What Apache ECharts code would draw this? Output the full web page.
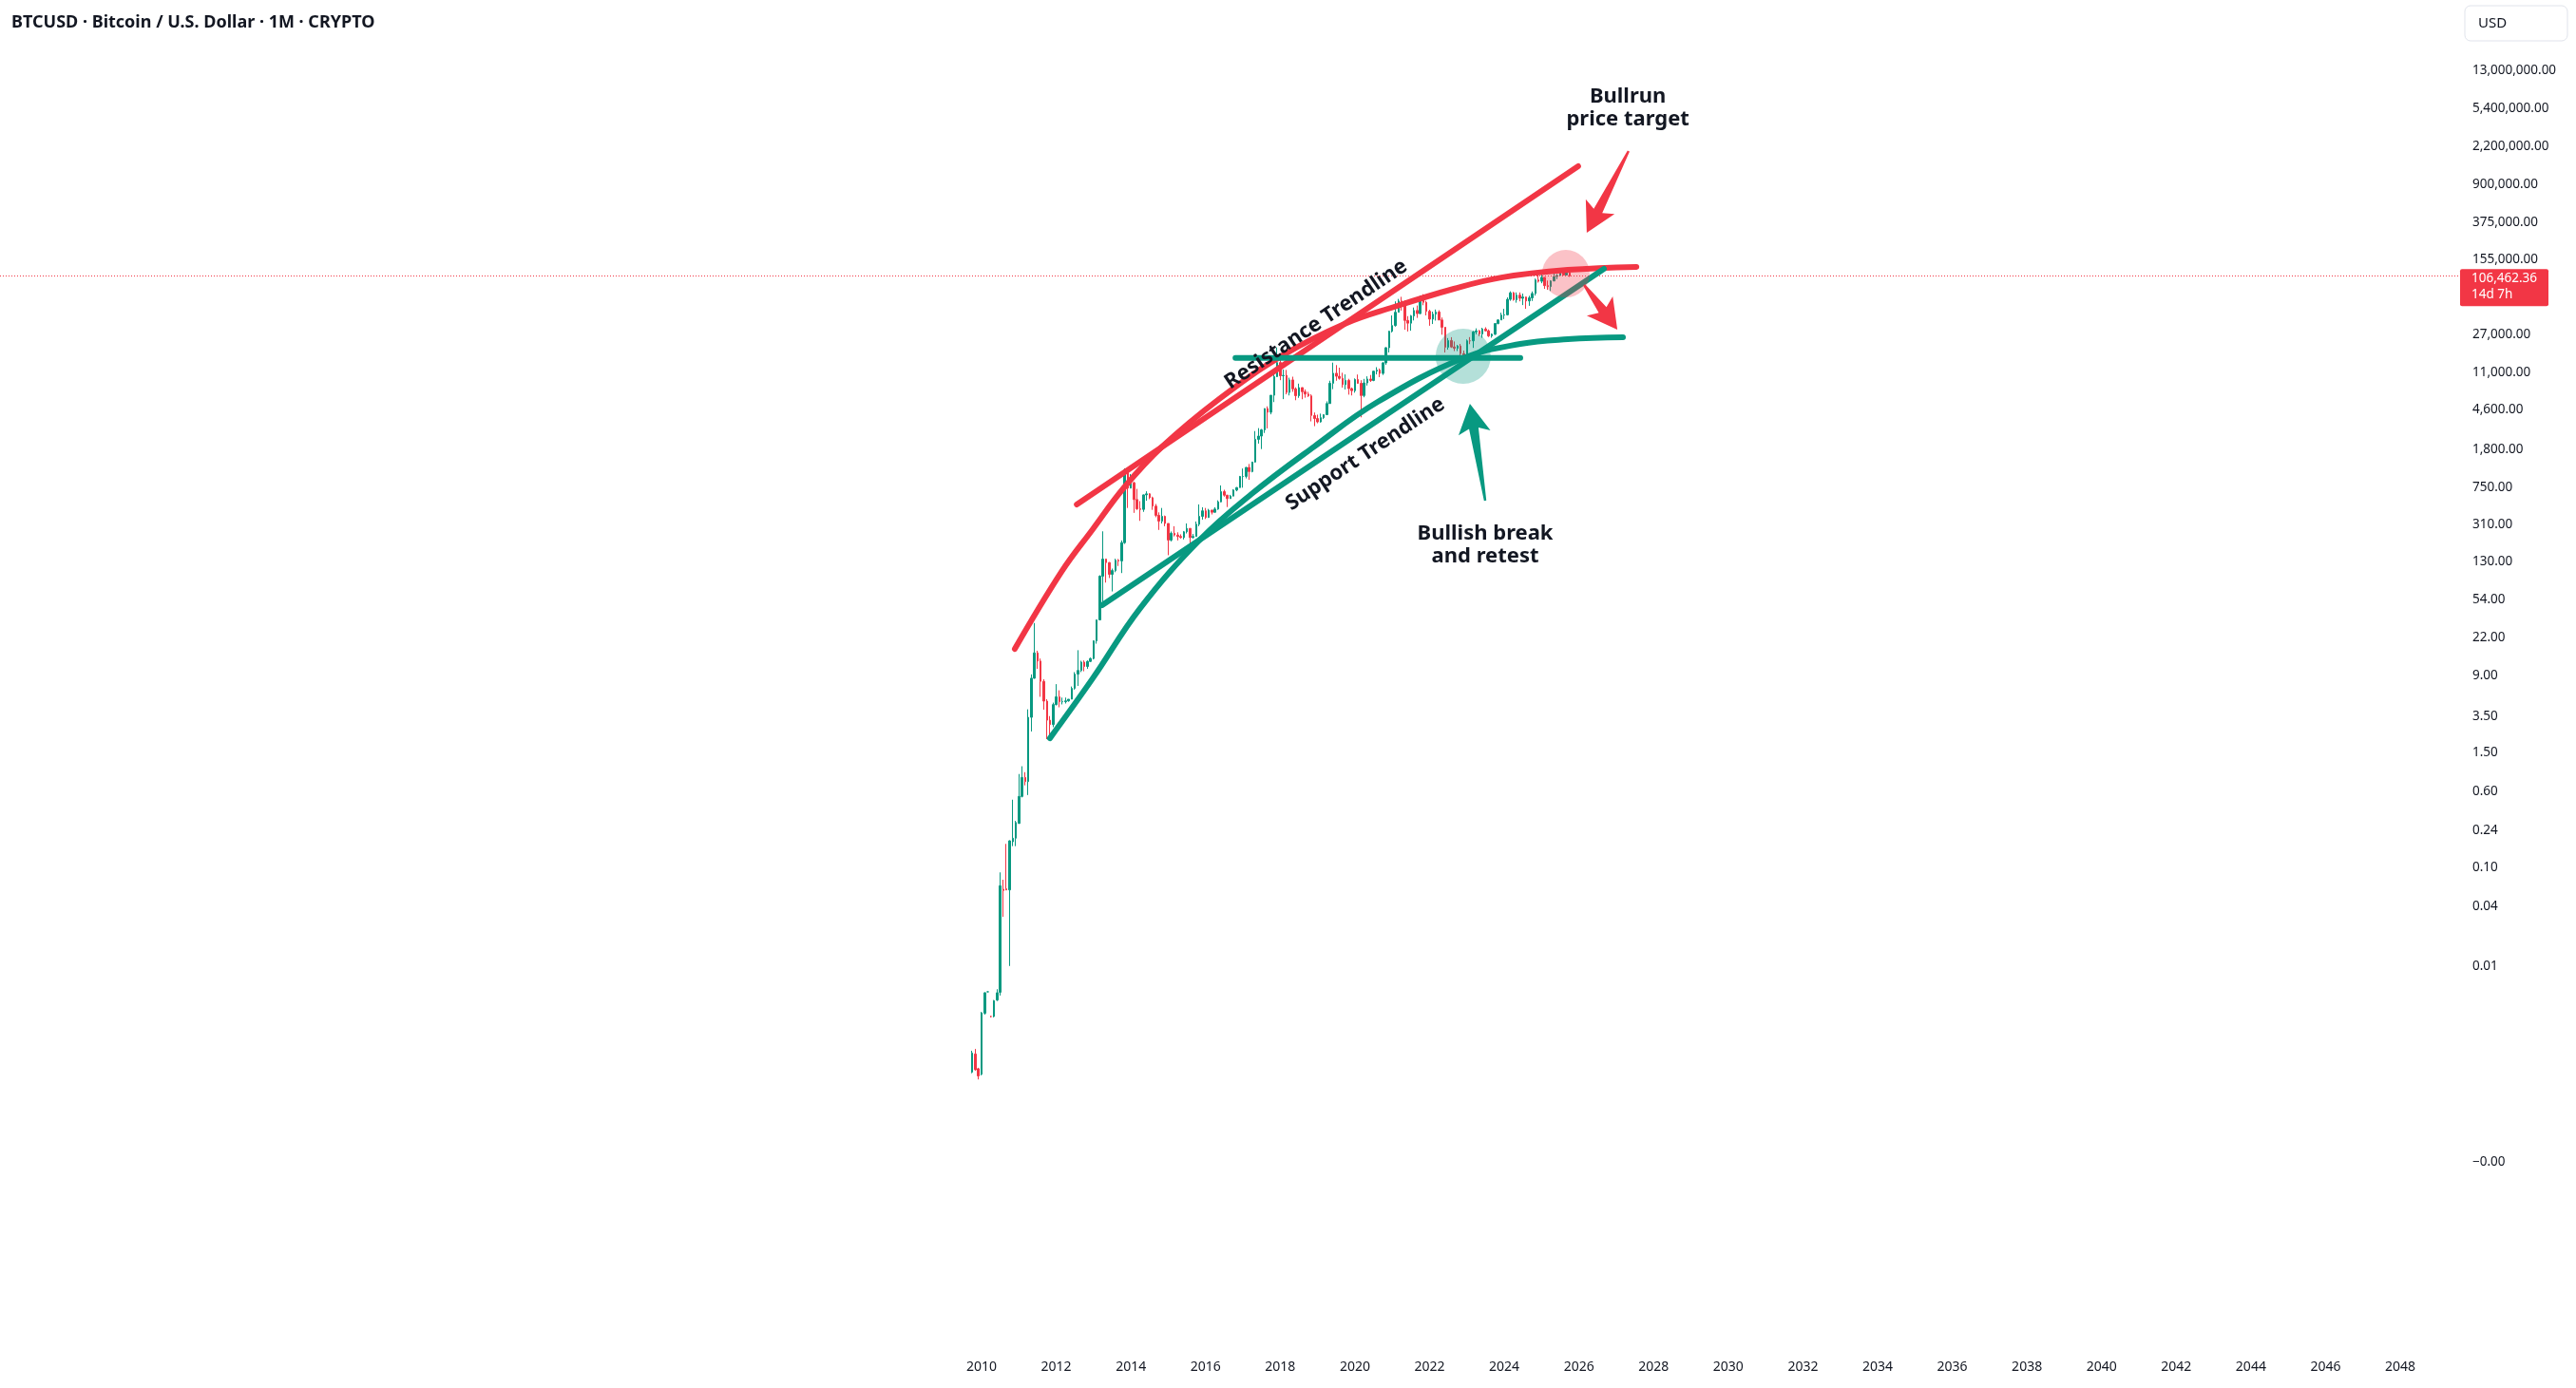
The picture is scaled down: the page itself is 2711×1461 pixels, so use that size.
<!DOCTYPE html>
<html>
<head>
<meta charset="utf-8">
<title>BTCUSD 1M</title>
<script src="https://cdn.jsdelivr.net/npm/echarts@6.0.0/dist/echarts.min.js"></script>
<style>
  html, body { margin: 0; padding: 0; background: #fff; }
  #main { width: 2711px; height: 1461px; }
</style>
</head>
<body>
<div id="main"></div>
<script>
// monthly candles, first one is Oct 2009, one entry per month
var firstMonth = 2009.75;
var opens = [
  0.00083, 0.00127, 0.0009,
  0.00079, 0.0033, 0.00546, 0.00306, 0.00306, 0.0045, 0.0054, 0.0604, 0.061, 0.0595, 0.184, 0.2,
  0.283, 0.532, 0.83, 0.754, 3.4, 8.5, 15.4, 12.7, 7.9, 4.97, 3.18, 2.87,
  4.58, 5.5, 4.9, 4.9, 5.0, 5.2, 6.7, 9.35, 10.2, 12.4, 11.2, 12.6,
  13.5, 20.4, 33.4, 93, 139, 128, 97, 106, 135, 133, 204, 1120,
  732, 830, 560, 450, 445, 625, 640, 585, 480, 387, 338, 378,
  320, 217, 254, 244, 236, 230, 263, 285, 230, 236, 314, 378,
  430, 368, 437, 416, 448, 531, 674, 621, 573, 608, 700, 742,
  963, 965, 1190, 1080, 1350, 2300, 2480, 2870, 4730, 4340, 6460, 10000,
  13900, 10200, 10300, 6900, 9250, 7500, 6390, 7730, 7020, 6630, 6370, 4020,
  3740, 3460, 3820, 4100, 5320, 8560, 10820, 10080, 9600, 8290, 9150, 7550,
  7190, 9350, 8540, 6420, 8630, 9450, 9140, 11350, 11660, 10780, 13800, 19700,
  28950, 33100, 45200, 58800, 57700, 37300, 35000, 41500, 47100, 43800, 61300, 57000,
  46200, 38500, 43200, 45500, 37700, 31800, 19900, 23300, 20050, 19430, 20500, 17150,
  16550, 23150, 23140, 28500, 29250, 27200, 30500, 29250, 25950, 26970, 34650, 37700,
  42250, 42580, 61150, 71300, 60650, 67500, 62700, 64600, 58950, 63300, 70200, 96400,
  93400, 102400, 84350, 82550, 94200, 104600, 107150, 115750, 108250, 114050
];
var highs = [
  0.00137, 0.00143, 0.00092,
  0.0034, 0.0054, 0.0055, 0.0031, 0.0045, 0.0058, 0.0897, 0.0755, 0.175, 0.19, 0.493, 0.3,
  0.9, 1.08, 0.94, 4.1, 9.3, 31, 16.2, 13.5, 8.3, 5.2, 3.5, 4.8,
  7.4, 6.4, 5.4, 5.4, 5.2, 7.0, 9.8, 16.4, 12.8, 12.9, 12.9, 13.8,
  20.7, 33.4, 95, 266, 140, 129, 111, 140, 139, 215, 1165, 1163,
  1020, 850, 720, 540, 630, 680, 650, 600, 505, 415, 460, 385,
  320, 265, 300, 260, 248, 268, 320, 285, 250, 335, 500, 468,
  460, 450, 440, 468, 550, 780, 705, 625, 625, 715, 750, 975,
  1160, 1200, 1290, 1360, 2790, 2990, 2930, 4750, 4980, 6470, 11500, 19800,
  17250, 11800, 11700, 9750, 9980, 7780, 8480, 7750, 7410, 7000, 6600, 4310,
  4100, 4200, 4120, 5600, 9080, 13880, 13100, 12330, 10950, 10530, 9500, 7750,
  9580, 10500, 9190, 9480, 10070, 10390, 11450, 12480, 12080, 14100, 19900, 29300,
  41950, 58350, 61800, 64900, 59600, 41300, 42400, 50500, 52900, 67000, 69000, 59100,
  47900, 45800, 48200, 47400, 40000, 31900, 24700, 25200, 22800, 21000, 21500, 18400,
  23900, 25250, 29200, 31000, 29850, 31400, 31800, 30200, 27500, 35000, 38400, 44700,
  48950, 64000, 73800, 72800, 71950, 71950, 70000, 65100, 66500, 73600, 99600, 108300,
  109600, 102500, 95000, 95800, 111900, 110600, 123200, 124450, 117900, 126200
];
var lows = [
  0.00081, 0.00086, 0.0007,
  0.00077, 0.0032, 0.0054, 0.003, 0.003, 0.0044, 0.005, 0.0317, 0.059, 0.01, 0.166, 0.166,
  0.28, 0.52, 0.69, 0.55, 2.44, 8.4, 10.6, 5.5, 4.07, 2.04, 2.0, 2.7,
  4.5, 4.3, 4.6, 4.7, 4.9, 5.2, 6.5, 7.1, 9.8, 10.0, 10.6, 12.4,
  13.2, 19.1, 33.2, 50, 80, 89, 65, 102, 118, 100, 198, 460,
  730, 410, 440, 340, 420, 545, 565, 440, 370, 275, 320, 300,
  152, 210, 236, 215, 225, 220, 253, 162, 225, 236, 300, 350,
  355, 365, 395, 413, 440, 525, 600, 470, 570, 605, 680, 740,
  740, 920, 890, 1060, 1330, 2080, 1830, 2670, 2970, 4130, 5500, 9900,
  9200, 5900, 6600, 6430, 7000, 5750, 6080, 5880, 6100, 6200, 3500, 3130,
  3350, 3400, 3700, 4080, 5300, 7450, 9080, 9320, 7730, 7400, 6550, 6430,
  6860, 8450, 3850, 6160, 8110, 8830, 8980, 10530, 9880, 10390, 13200, 17600,
  28150, 32300, 45000, 47000, 30000, 28800, 29300, 37300, 39600, 43300, 53300, 42000,
  32950, 34300, 37200, 37600, 26700, 17600, 18800, 19600, 18200, 18200, 15500, 16300,
  16500, 21400, 19600, 26950, 25800, 24800, 28900, 25300, 24900, 26550, 34100, 37600,
  38500, 41900, 59100, 59200, 56550, 58400, 53500, 49000, 52550, 58900, 66800, 90500,
  89200, 78200, 76600, 74400, 93400, 98200, 105100, 107300, 107300, 103500
];
var closes = [
  0.0013, 0.00088, 0.00076,
  0.00334, 0.00534, 0.00546, 0.00306, 0.00444, 0.00534, 0.0656, 0.0587, 0.0595, 0.188, 0.2, 0.289,
  0.532, 0.83, 0.754, 3.4, 8.5, 15.4, 12.7, 7.9, 4.97, 3.18, 2.87, 4.58,
  5.5, 4.9, 4.9, 5.0, 5.2, 6.7, 9.35, 10.2, 12.4, 11.2, 12.6, 13.5,
  20.4, 33.4, 93, 139, 128, 97, 106, 135, 133, 204, 1120, 732,
  830, 560, 450, 445, 625, 640, 585, 480, 387, 338, 378, 320,
  217, 254, 244, 236, 230, 263, 285, 230, 236, 314, 378, 430,
  368, 437, 416, 448, 531, 674, 621, 573, 608, 700, 742, 963,
  965, 1190, 1080, 1350, 2300, 2480, 2870, 4730, 4340, 6460, 10000, 13900,
  10200, 10300, 6900, 9250, 7500, 6390, 7730, 7020, 6630, 6370, 4020, 3740,
  3460, 3820, 4100, 5320, 8560, 10820, 10080, 9600, 8290, 9150, 7550, 7190,
  9350, 8540, 6420, 8630, 9450, 9140, 11350, 11660, 10780, 13800, 19700, 28950,
  33100, 45200, 58800, 57700, 37300, 35000, 41500, 47100, 43800, 61300, 57000, 46200,
  38500, 43200, 45500, 37700, 31800, 19900, 23300, 20050, 19430, 20500, 17150, 16550,
  23150, 23140, 28500, 29250, 27200, 30500, 29250, 25950, 26970, 34650, 37700, 42250,
  42580, 61150, 71300, 60650, 67500, 62700, 64600, 58950, 63300, 70200, 96400, 93400,
  102400, 84350, 82550, 94200, 104600, 107150, 115750, 108250, 114050, 106462.36
];

var lastPrice = 106462.36;
var countdown = '14d 7h';

var priceTicks = [13000000, 5400000, 2200000, 900000, 375000, 155000, 27000, 11000, 4600, 1800,
  750, 310, 130, 54, 22, 9, 3.5, 1.5, 0.6, 0.24, 0.1, 0.04, 0.01, 0.0001];
var priceTickLabels = ['13,000,000.00', '5,400,000.00', '2,200,000.00', '900,000.00', '375,000.00',
  '155,000.00', '27,000.00', '11,000.00', '4,600.00', '1,800.00', '750.00', '310.00', '130.00',
  '54.00', '22.00', '9.00', '3.50', '1.50', '0.60', '0.24', '0.10', '0.04', '0.01', '\u22120.00'];
var yearTicks = [2010, 2012, 2014, 2016, 2018, 2020, 2022, 2024, 2026, 2028, 2030,
  2032, 2034, 2036, 2038, 2040, 2042, 2044, 2046, 2048];

// hand drawn trendlines, [year, price]
var resistanceCurve = [[2010.89, 16.9], [2012.14, 103], [2012.98, 280], [2013.82, 745], [2014.84, 1940],
  [2016.36, 5900], [2018.07, 16500], [2019.72, 34400], [2021.05, 51300], [2022.65, 78300],
  [2023.92, 102000], [2025.70, 122000], [2027.54, 131000]];
var resistanceLine = [[2012.55, 499], [2025.98, 1384000]];
var supportCurve = [[2011.83, 2.08], [2012.98, 8.5], [2014.25, 44], [2015.85, 219], [2017.23, 638],
  [2018.91, 1940], [2020.61, 5530], [2022.90, 15400], [2024.43, 21500], [2025.70, 24000], [2027.18, 25100]];
var supportLine = [[2013.23, 47], [2026.67, 125000]];
var retestLevel = [[2016.80, 15500], [2024.43, 15500]];

var retestZone = [2022.90, 16100];
var targetZone = [2025.65, 111700];
var targetArrow = [[2027.33, 1977000], [2026.21, 291000]];
var pullbackArrow = [[2026.14, 85500], [2027.03, 30050]];
var retestArrow = [[2023.49, 546], [2023.08, 5290]];

var targetNote = [2027.31, 5420000];
var retestNote = [2023.49, 191.5];
var resistanceNote = [2018.96, 33960];
var supportNote = [2020.28, 1625];

var GREEN = '#089981', RED = '#f23645', INK = '#131722';
var L = function (v) { return Math.log10(v); };

var candles = opens.map(function (o, i) {
  return [firstMonth + i / 12, L(o), L(closes[i]), L(lows[i]), L(highs[i])];
});

function drawing(pts, color) {
  return {
    type: 'line',
    data: pts.map(function (p) { return [p[0], L(p[1])]; }),
    smooth: pts.length > 2 ? 0.4 : false,
    symbol: 'none',
    silent: true,
    z: 5,
    lineStyle: { color: color, width: 6, cap: 'round', join: 'round' }
  };
}

var chart = echarts.init(document.getElementById('main'));

var option = {
  animation: false,
  backgroundColor: '#ffffff',
  grid: { left: 0, right: 121, top: 0, bottom: 36 },
  xAxis: {
    type: 'value',
    min: 1983.708,
    max: 2049.628,
    axisLine: { show: false },
    axisTick: { show: false },
    splitLine: { show: false },
    axisLabel: {
      customValues: yearTicks,
      formatter: function (v) { return String(Math.round(v)); },
      color: INK,
      fontFamily: 'Noto Sans',
      fontSize: 14,
      margin: 7
    }
  },
  yAxis: {
    type: 'value',
    position: 'right',
    min: -5.948,
    max: 7.834,
    axisLine: { show: false },
    axisTick: { show: false },
    splitLine: { show: false },
    axisLabel: {
      customValues: priceTicks.map(L),
      formatter: function (v) {
        for (var i = 0; i < priceTicks.length; i++) {
          if (Math.abs(L(priceTicks[i]) - v) < 1e-6) return priceTickLabels[i];
        }
        return '';
      },
      color: INK,
      fontFamily: 'Noto Sans',
      fontSize: 13.5,
      margin: 12
    }
  },
  series: [
    {
      type: 'candlestick',
      data: candles,
      encode: { x: 0, y: [1, 2, 3, 4] },
      barWidth: 2,
      z: 3,
      itemStyle: {
        color: GREEN, color0: RED,
        borderColor: GREEN, borderColor0: RED,
        borderWidth: 1
      },
      markLine: {
        silent: true,
        symbol: ['none', 'none'],
        label: { show: false },
        lineStyle: { color: RED, width: 1, type: [1, 2] },
        data: [{ yAxis: L(lastPrice) }]
      }
    },
    drawing(resistanceCurve, RED),
    drawing(resistanceLine, RED),
    drawing(supportCurve, GREEN),
    drawing(supportLine, GREEN),
    drawing(retestLevel, GREEN)
  ]
};
chart.setOption(option);

function toPx(p) {
  return chart.convertToPixel({ gridIndex: 0 }, [p[0], L(p[1])]);
}

function arrowShape(tail, tip) {
  var dx = tip[0] - tail[0], dy = tip[1] - tail[1];
  var len = Math.sqrt(dx * dx + dy * dy);
  var ux = dx / len, uy = dy / len, nx = -uy, ny = ux;
  var wing = 31, neck = 26, headHalf = 17, shaftHalf = 5, tailHalf = 1.2;
  var wx = tip[0] - ux * wing, wy = tip[1] - uy * wing;
  var kx = tip[0] - ux * neck, ky = tip[1] - uy * neck;
  return [
    [tail[0] + nx * tailHalf, tail[1] + ny * tailHalf],
    [kx + nx * shaftHalf, ky + ny * shaftHalf],
    [wx + nx * headHalf, wy + ny * headHalf],
    tip,
    [wx - nx * headHalf, wy - ny * headHalf],
    [kx - nx * shaftHalf, ky - ny * shaftHalf],
    [tail[0] - nx * tailHalf, tail[1] - ny * tailHalf]
  ];
}

function arrow(pair, color) {
  return {
    type: 'polygon', silent: true, z: 20,
    shape: { points: arrowShape(toPx(pair[0]), toPx(pair[1])) },
    style: { fill: color }
  };
}

function slopeAngle(pair) {
  var a = toPx(pair[0]), b = toPx(pair[1]);
  return Math.atan2(a[1] - b[1], b[0] - a[0]);
}

function note(text, at, rotation) {
  var p = toPx(at);
  return {
    type: 'text', silent: true, z: 30,
    x: p[0], y: p[1], rotation: rotation || 0,
    style: {
      text: text, fill: INK, font: 'bold 22px "Noto Sans"',
      align: 'center', verticalAlign: 'middle', lineHeight: 24
    }
  };
}

var rz = toPx(retestZone), tz = toPx(targetZone);
var priceY = toPx([2020, lastPrice])[1];

chart.setOption({
  graphic: [
    {
      type: 'text', silent: true, z: 30, x: 12, y: 24,
      style: { text: 'BTCUSD \u00b7 Bitcoin / U.S. Dollar \u00b7 1M \u00b7 CRYPTO', fill: INK,
        font: 'bold 18px "Noto Sans"', verticalAlign: 'middle' }
    },
    {
      type: 'rect', silent: true, z: 30,
      shape: { x: 2594, y: 6, width: 108, height: 37, r: 6 },
      style: { fill: '#ffffff', stroke: '#e0e3eb', lineWidth: 1 }
    },
    {
      type: 'text', silent: true, z: 31, x: 2608, y: 24.5,
      style: { text: 'USD', fill: INK, font: '15px "Noto Sans"', verticalAlign: 'middle' }
    },
    {
      type: 'rect', silent: true, z: 30,
      shape: { x: 2589, y: priceY - 7, width: 93, height: 39, r: 2 },
      style: { fill: RED }
    },
    {
      type: 'text', silent: true, z: 31, x: 2601, y: priceY + 3,
      style: { text: '106,462.36', fill: '#ffffff', font: '13.5px "Noto Sans"', verticalAlign: 'middle' }
    },
    {
      type: 'text', silent: true, z: 31, x: 2601, y: priceY + 20,
      style: { text: countdown, fill: '#ffffff', font: '13.5px "Noto Sans"', verticalAlign: 'middle' }
    },
    {
      type: 'circle', silent: true, z: 10,
      shape: { cx: rz[0], cy: rz[1], r: 29 },
      style: { fill: 'rgba(8,153,129,0.3)' }
    },
    {
      type: 'circle', silent: true, z: 10,
      shape: { cx: tz[0], cy: tz[1], r: 25 },
      style: { fill: 'rgba(242,54,69,0.3)' }
    },
    arrow(targetArrow, RED),
    arrow(pullbackArrow, RED),
    arrow(retestArrow, GREEN),
    note('Bullrun\nprice target', targetNote),
    note('Bullish break\nand retest', retestNote),
    note('Resistance Trendline', resistanceNote, slopeAngle(resistanceLine)),
    note('Support Trendline', supportNote, slopeAngle(supportLine))
  ]
});
</script>
</body>
</html>
